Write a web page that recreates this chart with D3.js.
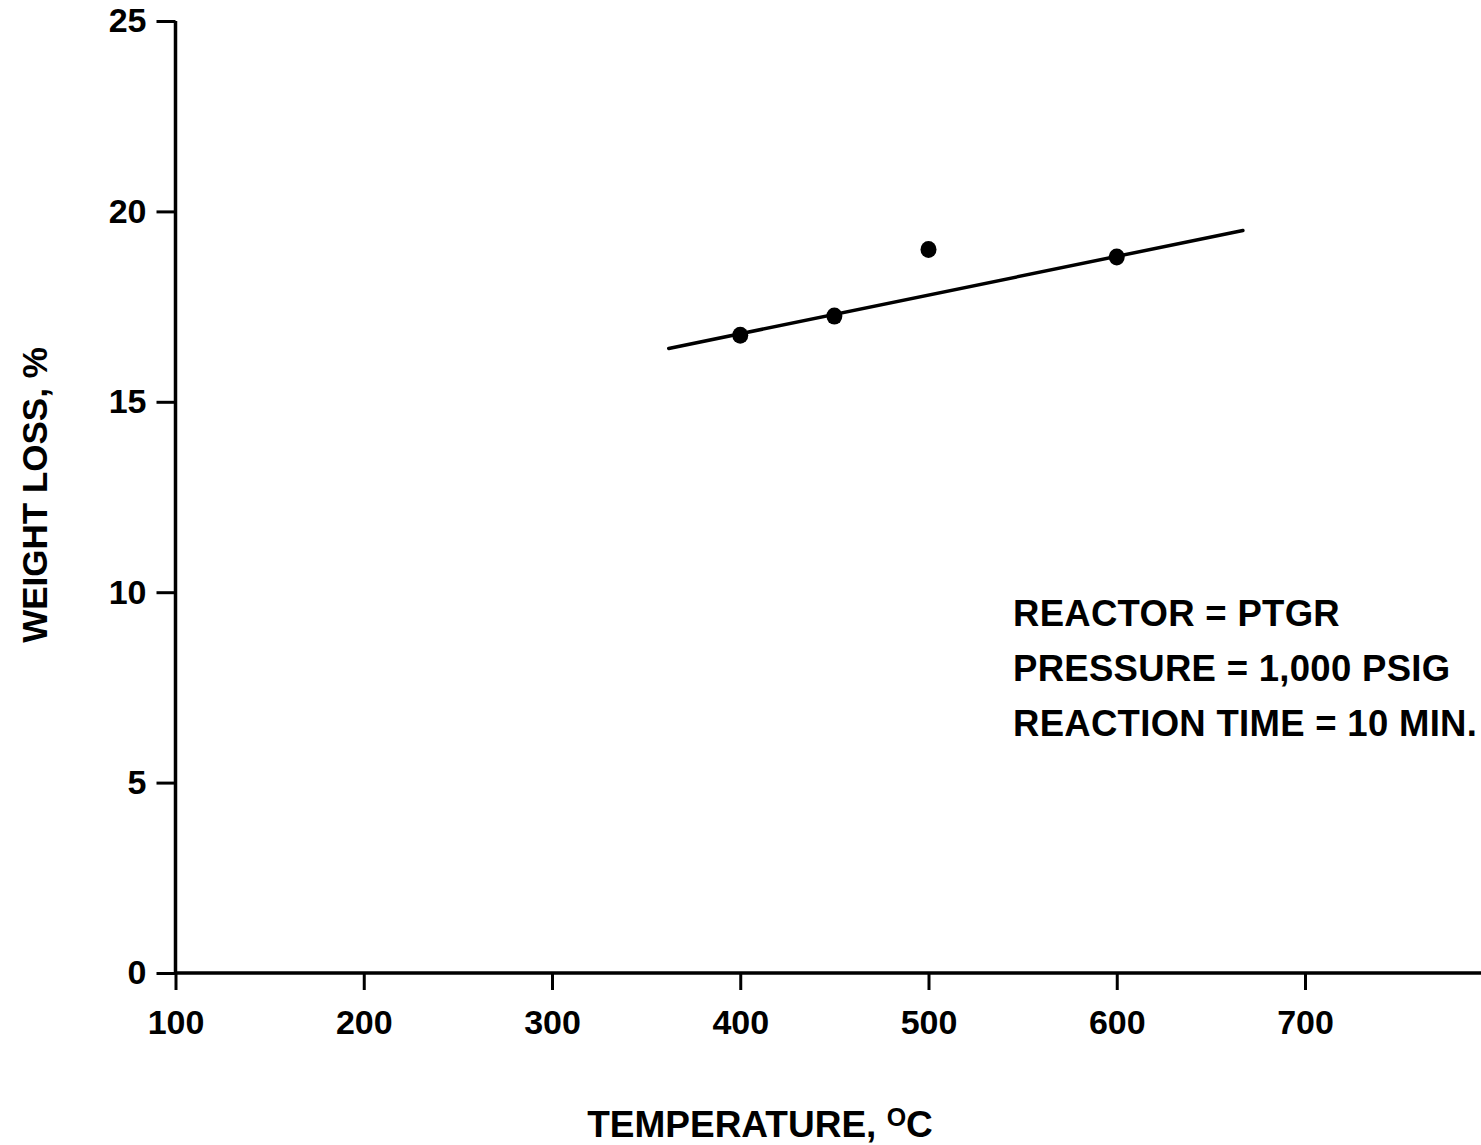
<!DOCTYPE html>
<html>
<head>
  <title>Weight loss vs temperature</title>
  <script src="https://d3js.org/d3.v7.min.js"></script>
  <style>
    body { margin: 0; background: #fff; }
    text { font-family: "Liberation Sans", Arial, Helvetica, sans-serif; font-weight: bold; fill: #000; }
  </style>
</head>
<body>
  <div id="chart"></div>
  <script>
    // data
    const temps = [400, 450, 500, 600];
    const weightLoss = [16.75, 17.25, 19.0, 18.8];
    const fitTemps = [362, 667];
    const fitLoss = [16.4, 19.5];
    const xTicks = [100, 200, 300, 400, 500, 600, 700];
    const yTicks = [0, 5, 10, 15, 20, 25];
    const notes = ["REACTOR = PTGR", "PRESSURE = 1,000 PSIG", "REACTION TIME = 10 MIN."];

    const width = 1481, height = 1145;
    const svg = d3.select("#chart").append("svg")
      .attr("width", width).attr("height", height);

    const x = d3.scaleLinear().domain([100, 700]).range([175.5, 1305]);
    x.domain([100, x.invert(width)]).range([175.5, width]);
    const y = d3.scaleLinear().domain([0, 25]).range([973, 21]);

    // y axis
    const yAxis = svg.append("g")
      .attr("transform", `translate(${x(100)},0)`)
      .call(d3.axisLeft(y).tickValues(yTicks).tickSize(19).tickSizeOuter(0).tickPadding(10));
    yAxis.select(".domain").attr("stroke-width", 3.5).attr("d", `M0,${y(25)}V${y(0)}`);
    yAxis.selectAll(".tick line").attr("stroke-width", 3);
    yAxis.selectAll(".tick text").attr("font-size", 34).attr("font-family", null);

    // x axis
    const xAxis = svg.append("g")
      .attr("transform", `translate(0,${y(0)})`)
      .call(d3.axisBottom(x).tickValues(xTicks).tickSize(17).tickSizeOuter(0).tickPadding(20));
    xAxis.select(".domain").attr("stroke-width", 3.5).attr("d", `M${x(100)},0H${width}`);
    xAxis.selectAll(".tick line").attr("stroke-width", 3);
    xAxis.selectAll(".tick text").attr("font-size", 34).attr("font-family", null);

    // fitted line
    const fit = fitTemps.map((t, i) => ({ t, w: fitLoss[i] }));
    svg.append("path")
      .datum(fit)
      .attr("fill", "none")
      .attr("stroke", "#000")
      .attr("stroke-width", 3.5)
      .attr("stroke-linecap", "round")
      .attr("d", d3.line().x(d => x(d.t)).y(d => y(d.w)));

    // points
    const pts = temps.map((t, i) => ({ t, w: weightLoss[i] }));
    svg.selectAll("ellipse.pt")
      .data(pts)
      .join("ellipse")
      .attr("class", "pt")
      .attr("cx", d => x(d.t))
      .attr("cy", d => y(d.w))
      .attr("rx", 8)
      .attr("ry", 8.5)
      .attr("fill", "#000");

    // annotation
    svg.append("g").selectAll("text")
      .data(notes)
      .join("text")
      .attr("x", 1013)
      .attr("y", (d, i) => 626 + i * 55)
      .attr("font-size", 36.5)
      .attr("letter-spacing", 0.3)
      .text(d => d);

    // axis titles
    const xt = svg.append("text")
      .attr("x", 760)
      .attr("y", 1137)
      .attr("text-anchor", "middle")
      .attr("font-size", 37);
    xt.append("tspan").text("TEMPERATURE, ");
    xt.append("tspan").attr("font-size", 25).attr("dy", -11).text("O");
    xt.append("tspan").attr("dy", 11).text("C");

    svg.append("text")
      .attr("transform", "translate(47,495) rotate(-90)")
      .attr("text-anchor", "middle")
      .attr("font-size", 35)
      .text("WEIGHT LOSS, %");
  </script>
</body>
</html>
